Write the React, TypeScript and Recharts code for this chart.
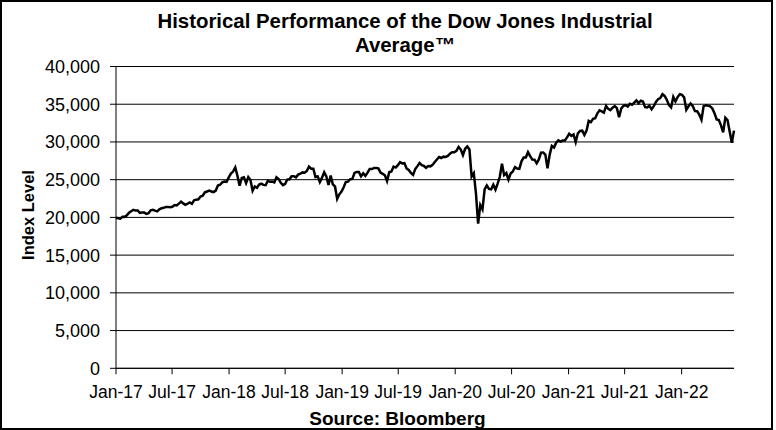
import { CartesianGrid, Line, LineChart, XAxis, YAxis } from "recharts";

// weekly closes (Fridays)
const closes2017 = [
  19964, 19885, 19827, 20093, 20071, 20269, 20624, 20822, 21005, 20902, 20914,
  20596, 20663, 20656, 20453, 20547, 20940, 21006, 20896, 20804, 21080, 21206,
  21271, 21384, 21394, 21350, 21414, 21638, 21580, 21830, 22092, 21858, 21675,
  21814, 21988, 21798, 22268, 22350, 22405, 22774, 22871, 23329, 23434, 23539,
  23422, 23358, 23558, 24231, 24329, 24651, 24754, 24719,
];
const closes2018 = [
  25295, 25803, 26072, 26616, 25521, 24190, 25219, 25310, 24538, 25336, 24946,
  23533, 24103, 23933, 24360, 24463, 24311, 24263, 24831, 24715, 24753, 24635,
  25317, 25090, 24581, 24271, 24456, 25019, 25058, 25451, 25463, 25313, 25669,
  25790, 25965, 25916, 26154, 26744, 26458, 26447, 25340, 25444, 24688, 25270,
  25989, 25413, 24286, 25538, 24389, 24100, 22445, 23062,
];
const closes2019 = [
  23433, 23996, 24706, 24737, 25064, 25106, 25883, 26031, 26026, 25450, 25849,
  25502, 25929, 26425, 26412, 26559, 26543, 26505, 25942, 25764, 25585, 24815,
  25984, 26090, 26719, 26600, 26922, 27332, 27154, 27192, 26485, 26287, 25886,
  25629, 26403, 26797, 27220, 26935, 26820, 26573, 26817, 26770, 26958, 27347,
  27681, 28005, 27876, 28051, 28015, 28135, 28455, 28645,
];
const closes2020 = [
  28634, 28824, 29348, 28989, 28256, 29102, 29398, 28992, 25409, 25865, 23186,
  19174, 21637, 21053, 23719, 24242, 23775, 23724, 24331, 23685, 24465, 25383,
  27111, 25605, 25871, 25016, 25827, 26075, 26672, 26470, 26428, 27433, 27931,
  27930, 28654, 28133, 27666, 27657, 27174, 27683, 28587, 28606, 28336, 26502,
  28323, 29480, 29263, 29910, 30218, 30046, 30179, 30200, 30606,
];
const closes2021 = [
  31098, 30814, 30997, 29983, 31148, 31458, 31494, 30932, 31496, 32779, 32628,
  33073, 33153, 33801, 34200, 34043, 33875, 34778, 34382, 34208, 34529, 34756,
  34480, 33290, 34433, 34786, 34870, 34688, 35062, 34935, 35209, 35515, 35120,
  35455, 35369, 34608, 34584, 34798, 34326, 34746, 35295, 35677, 35820, 36328,
  36100, 35602, 34899, 34580, 35971, 35365, 35951, 36338,
];
const closes2022 = [
  36231, 35912, 34265, 34725, 35089, 34739, 34079, 34059, 33615, 32944, 34755,
  34862, 34818, 34721, 34451, 33811, 32977, 32899, 32197, 31262, 33213, 32900,
  31393, 29888, 31501,
];

const firstWeek = "2017-01-06";
const tickDates = [
  "2017-01-06", "2017-07-06", "2018-01-06", "2018-07-06", "2019-01-06",
  "2019-07-06", "2020-01-06", "2020-07-06", "2021-01-06", "2021-07-06",
  "2022-01-06",
];
const tickLabels = [
  "Jan-17", "Jul-17", "Jan-18", "Jul-18", "Jan-19", "Jul-19", "Jan-20",
  "Jul-20", "Jan-21", "Jul-21", "Jan-22",
];
const yTicks = [0, 5000, 10000, 15000, 20000, 25000, 30000, 35000, 40000];

const DAY = 86400000;
const daysFrom = (d: string) => Math.round((Date.parse(d) - Date.parse(firstWeek)) / DAY);

const closes = [
  ...closes2017, ...closes2018, ...closes2019, ...closes2020, ...closes2021, ...closes2022,
];
const data = closes.map((close, i) => ({ day: i * 7, close }));
const lastDay = (closes.length - 1) * 7;
const xTicks = tickDates.map(daysFrom);
const labelFor = (day: number) => tickLabels[xTicks.indexOf(day)] ?? "";

const FONT = '"Liberation Sans", Arial, sans-serif';

export default function App() {
  return (
    <div style={{ position: "relative", width: 776, height: 430, background: "#fff", fontFamily: FONT }}>
      <style>{`body{margin:0}`}</style>
      <LineChart
        width={776}
        height={430}
        data={data}
        margin={{ top: 66.5, right: 42, bottom: 31.7, left: 0 }}
      >
        <CartesianGrid vertical={false} stroke="#000" strokeWidth={1} />
        <XAxis
          dataKey="day"
          type="number"
          domain={[0, lastDay]}
          ticks={xTicks}
          interval={0}
          tickFormatter={labelFor}
          height={30}
          tickSize={6}
          tickMargin={11}
          axisLine={{ stroke: "#000", strokeWidth: 1 }}
          tickLine={{ stroke: "#000" }}
          tick={{ fill: "#000", fontSize: 17.5, fontFamily: FONT }}
        />
        <YAxis
          domain={[0, 40000]}
          ticks={yTicks}
          interval={0}
          width={116}
          tickSize={6}
          tickMargin={10}
          tickFormatter={(v: number) => v.toLocaleString("en-US")}
          axisLine={{ stroke: "#000", strokeWidth: 1 }}
          tickLine={{ stroke: "#000" }}
          tick={{ fill: "#000", fontSize: 18, fontFamily: FONT }}
        />
        <Line
          type="linear"
          dataKey="close"
          stroke="#000"
          strokeWidth={2.5}
          dot={false}
          isAnimationActive={false}
        />
      </LineChart>
      <svg
        width={776}
        height={430}
        style={{ position: "absolute", left: 0, top: 0, pointerEvents: "none" }}
      >
        <text x={405} y={28} textAnchor="middle" fontSize={20.4} fontWeight="bold" fontFamily={FONT}>
          Historical Performance of the Dow Jones Industrial
        </text>
        <text x={405} y={52} textAnchor="middle" fontSize={20.4} fontWeight="bold" fontFamily={FONT}>
          Average™
        </text>
        <text
          x={33.5}
          y={215}
          textAnchor="middle"
          fontSize={16.5}
          fontWeight="bold"
          fontFamily={FONT}
          transform="rotate(-90 33.5 215)"
        >
          Index Level
        </text>
        <text x={397.5} y={425} textAnchor="middle" fontSize={19} fontWeight="bold" fontFamily={FONT}>
          Source: Bloomberg
        </text>
        <rect x={1} y={1} width={771} height={428} fill="none" stroke="#000" strokeWidth={2} />
      </svg>
    </div>
  );
}
